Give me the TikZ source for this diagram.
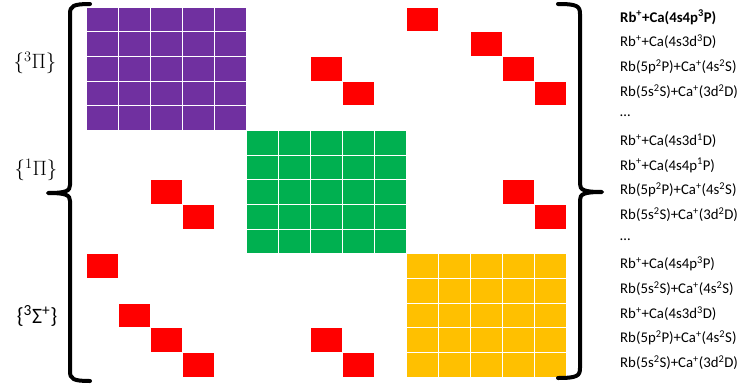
\documentclass[tikz,border=0pt]{standalone}
\usepackage{fontspec}
\setmainfont{Carlito}
\definecolor{tripi}{HTML}{7030A0}
\definecolor{singpi}{HTML}{00B050}
\definecolor{trisig}{HTML}{FFC000}
\definecolor{coupl}{HTML}{FF0000}
\tikzset{cell/.style={draw=white,line width=1pt},
  brace/.style={line width=4pt,line cap=round,line join=round},
  chan/.style={anchor=west,font=\fontsize{14.8}{17}\selectfont}}
\newcommand{\sps}[1]{\textsuperscript{#1}}
\begin{document}
\begin{tikzpicture}[x=1pt,y=-1pt,every node/.style={inner sep=1pt}]
  \useasboundingbox (0,0) rectangle (741,388);
  \def\ox{86}
  \def\oy{7}
  \def\cw{32}
  \def\ch{24.667}
  \foreach \b/\col in {0/tripi,1/singpi,2/trisig} {
    \foreach \i in {0,...,4} {
      \foreach \j in {0,...,4} {
        \path[fill=\col,cell] ({\ox+(5*\b+\j)*\cw},{\oy+(5*\b+\i)*\ch}) rectangle ++(\cw,\ch);
      }
    }
  }
  \foreach \r/\c in {0/10,1/12,2/7,2/13,3/8,3/14,7/2,7/13,8/3,8/14,10/0,12/1,13/2,13/7,14/3,14/8} {
    \path[fill=coupl,cell] ({\ox+\c*\cw},{\oy+\r*\ch}) rectangle ++(\cw,\ch);
  }
  \draw[brace] (90,4) .. controls (73,4) and (70,6) .. (70,14) -- (70,185)
    .. controls (70,191) and (66,193) .. (48,193)
    .. controls (66,193) and (70,195) .. (70,201) -- (70,371)
    .. controls (70,379) and (73,381) .. (90,381);
  \draw[brace] (558,4) .. controls (577,4) and (580,6) .. (580,14) -- (580,184)
    .. controls (580,190) and (584,192) .. (602,192)
    .. controls (584,192) and (580,194) .. (580,200) -- (580,368)
    .. controls (580,376) and (577,378) .. (558,378);
  \node (tp) at (35,63) {\fontsize{20}{24}\selectfont$\{^{3}\Pi\}$};
  \node (sp) at (36,170) {\fontsize{20}{24}\selectfont$\{^{1}\Pi\}$};
  \node (ts) at (37,316) {\fontsize{22}{26}\selectfont\{\sps{3}Σ\sps{+}\}};
  \foreach \r/\t in {0/{\textbf{Rb\sps{+}+Ca(4s4p\sps{3}P)}},
      1/{Rb\sps{+}+Ca(4s3d\sps{3}D)},
      2/{Rb(5p\sps{2}P)+Ca\sps{+}(4s\sps{2}S)},
      3/{Rb(5s\sps{2}S)+Ca\sps{+}(3d\sps{2}D)},
      4/{…},
      5/{Rb\sps{+}+Ca(4s3d\sps{1}D)},
      6/{Rb\sps{+}+Ca(4s4p\sps{1}P)},
      7/{Rb(5p\sps{2}P)+Ca\sps{+}(4s\sps{2}S)},
      8/{Rb(5s\sps{2}S)+Ca\sps{+}(3d\sps{2}D)},
      9/{…},
      10/{Rb\sps{+}+Ca(4s4p\sps{3}P)},
      11/{Rb(5s\sps{2}S)+Ca\sps{+}(4s\sps{2}S)},
      12/{Rb\sps{+}+Ca(4s3d\sps{3}D)},
      13/{Rb(5p\sps{2}P)+Ca\sps{+}(4s\sps{2}S)},
      14/{Rb(5s\sps{2}S)+Ca\sps{+}(3d\sps{2}D)}} {
    \node[chan] (ch\r) at (619,{\oy+(\r+0.5)*\ch-2}) {\t};
  }
\end{tikzpicture}
\end{document}
